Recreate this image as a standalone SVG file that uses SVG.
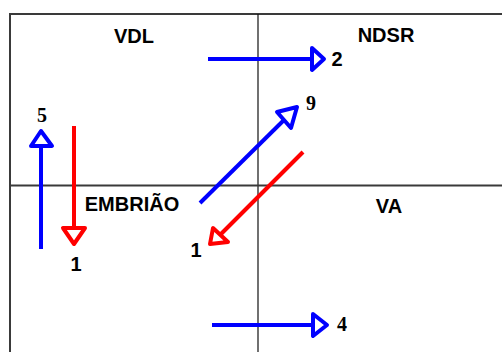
<svg xmlns="http://www.w3.org/2000/svg" width="502" height="352" viewBox="0 0 502 352">
<style>
.frame{stroke:#3a3a3a;stroke-width:2;fill:none}
.div{stroke:#111;stroke-width:1.2;fill:none}
.lbl{font-family:"Liberation Sans",Arial,sans-serif;font-weight:bold;font-size:20px;fill:#000;text-anchor:middle}
.num{font-family:"Liberation Serif","Times New Roman",serif;font-weight:bold;font-size:20px;fill:#000;text-anchor:middle}
.numS{font-family:"Liberation Sans",Arial,sans-serif;font-weight:bold;font-size:20px;fill:#000;text-anchor:middle}
.b{stroke:#0000FF;stroke-width:4;fill:none}
.r{stroke:#FF0000;stroke-width:4;fill:none}
.hb{stroke:#0000FF;stroke-width:4;fill:#fff;stroke-linejoin:round}
.hr{stroke:#FF0000;stroke-width:4;fill:#fff;stroke-linejoin:round}
</style>
<rect width="502" height="352" fill="#fff"/>
<g id="grid">
<path class="frame" d="M10,360 V14 H510"/>
<path class="div" d="M258,14 V352"/>
<path class="frame" d="M10,185.5 H510"/>
</g>
<g id="quadrants">
<g id="vdl"><text class="lbl" x="134" y="43">VDL</text></g>
<g id="ndsr"><text class="lbl" x="386" y="42">NDSR</text></g>
<g id="embriao"><text class="lbl" x="132" y="211">EMBRIÃO</text></g>
<g id="va"><text class="lbl" x="389" y="213">VA</text></g>
</g>
<g id="connectors">
<g id="a2"><line class="b" x1="208" y1="59" x2="312" y2="59"/><polygon class="hb" points="312,48 324,59 312,70"/><text class="numS" x="337" y="66">2</text></g>
<g id="a5"><line class="b" x1="41" y1="249" x2="41" y2="146"/><polygon class="hb" points="31,146 41,131 52,146"/><text class="num" x="42" y="122">5</text></g>
<g id="a1v"><line class="r" x1="74" y1="126" x2="74" y2="228"/><polygon class="hr" points="63,228 85,228 74,244"/><text class="numS" x="76" y="271">1</text></g>
<g id="a9"><line class="b" x1="200" y1="203" x2="284" y2="120"/><polygon class="hb" points="277,112 297,107 291,128"/><text class="num" x="311" y="110">9</text></g>
<g id="a1d"><line class="r" x1="303" y1="152" x2="220" y2="235"/><polygon class="hr" points="213,228 210,244 228,242"/><text class="numS" x="196" y="257">1</text></g>
<g id="a4"><line class="b" x1="212" y1="325" x2="313" y2="325"/><polygon class="hb" points="313,314 327,325 313,336"/><text class="num" x="342" y="331">4</text></g>
</g>
</svg>
